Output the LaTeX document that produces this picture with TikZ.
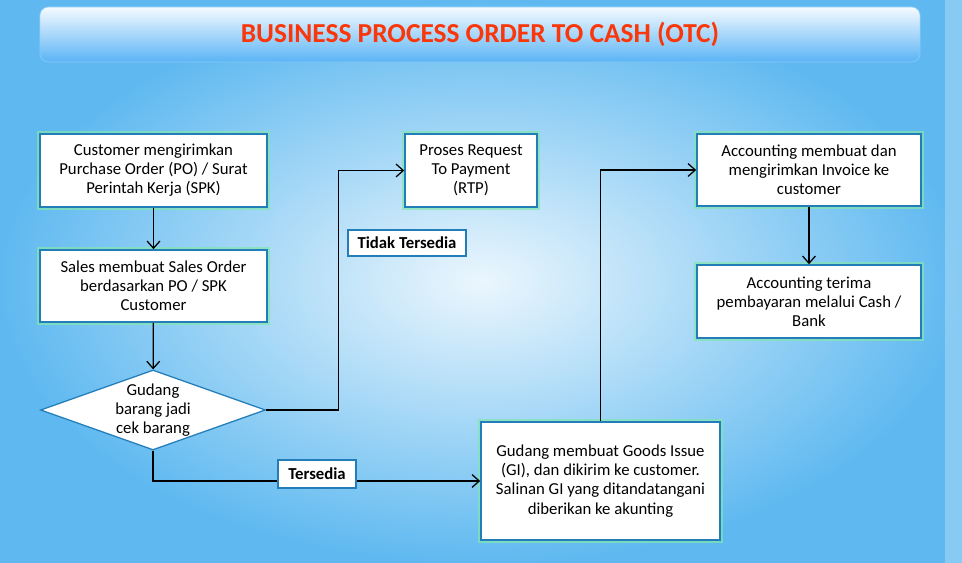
\documentclass[tikz,border=0pt]{standalone}
\usepackage{fontspec}
\setmainfont{Carlito}
\usetikzlibrary{arrows.meta,positioning,shapes.geometric}
\definecolor{otcblue}{RGB}{35,125,185}
\definecolor{otcred}{RGB}{250,55,10}
\definecolor{otcglow}{RGB}{130,230,175}
\definecolor{bgdeep}{RGB}{95,185,240}
\definecolor{bglight}{RGB}{235,246,253}
\definecolor{bartop}{RGB}{245,250,255}
\definecolor{barbot}{RGB}{90,180,245}

\begin{document}
\begin{tikzpicture}[x=0.025cm, y=-0.025cm,
  proc/.style={rectangle, draw=otcblue, line width=1.1pt, fill=white, align=center,
    font=\fontsize{11.9}{13.6}\selectfont, inner sep=2pt,
    preaction={draw=otcglow, line width=4.5pt, opacity=0.7}},
  decide/.style={diamond, draw=otcblue, line width=0.9pt, fill=white, align=center,
    font=\fontsize{11.9}{13.6}\selectfont, inner sep=0pt, shape aspect=2.8,
    minimum width=5.625cm, minimum height=2cm},
  tag/.style={rectangle, draw=otcblue, line width=0.9pt, fill=white,
    font=\fontsize{11.9}{13}\selectfont\bfseries, inner sep=2pt},
  flow/.style={-{Straight Barb[length=1.8mm, width=3.2mm]}, line width=0.9pt, black},
]
% background
\useasboundingbox (0,0) rectangle (962,563);
\shade[inner color=bglight, outer color=bgdeep] (0,0) rectangle (962,563);
\fill[white, opacity=0.25] (945,0) rectangle (962,563);

% title bar
\node[rectangle, rounded corners=6pt, draw=barbot!70, top color=bartop, bottom color=barbot,
  minimum width=22cm, minimum height=1.375cm, text=otcred,
  font=\fontsize{19.5}{21}\selectfont\bfseries] (title) at (480,34.5)
  {BUSINESS PROCESS ORDER TO CASH (OTC)};

% steps
\node[proc, minimum width=5.675cm, minimum height=1.825cm] (cust) at (153.5,170.5)
  {Customer mengirimkan\\Purchase Order (PO) / Surat\\Perintah Kerja (SPK)};
\node[proc, minimum width=5.675cm, minimum height=1.8cm] (sales) at (153.5,286)
  {Sales membuat Sales Order\\berdasarkan PO / SPK\\Customer};
\node[decide] (cek) at (153,410) {Gudang\\barang jadi\\cek barang};
\node[proc, minimum width=3.3cm, minimum height=1.825cm] (rtp) at (471,170.5)
  {Proses Request\\To Payment\\(RTP)};
\node[proc, minimum width=5.975cm, minimum height=2.95cm] (gi) at (600.5,481)
  {Gudang membuat Goods Issue\\(GI), dan dikirim ke customer.\\Salinan GI yang ditandatangani\\diberikan ke akunting};
\node[proc, minimum width=5.6cm, minimum height=1.8cm] (inv) at (809,170)
  {Accounting membuat dan\\mengirimkan Invoice ke\\customer};
\node[proc, minimum width=5.6cm, minimum height=1.825cm] (bank) at (809,301.5)
  {Accounting terima\\pembayaran melalui Cash /\\Bank};

% arrows
\draw[flow] (cust) -- (sales);
\draw[flow] (sales) -- (cek);
\draw[flow] (cek.east) -- ++(72,0) |- (rtp.west);
\draw[flow] (cek.south) |- (gi.west);
\draw[flow] (gi.north) |- (inv.west);
\draw[flow] (inv) -- (bank);

% branch labels
\node[tag, minimum width=2.95cm, minimum height=0.65cm] (tidak) at (407,243) {Tidak Tersedia};
\node[tag, minimum width=1.95cm, minimum height=0.7cm] (ada) at (317,474) {Tersedia};

\end{tikzpicture}
\end{document}
